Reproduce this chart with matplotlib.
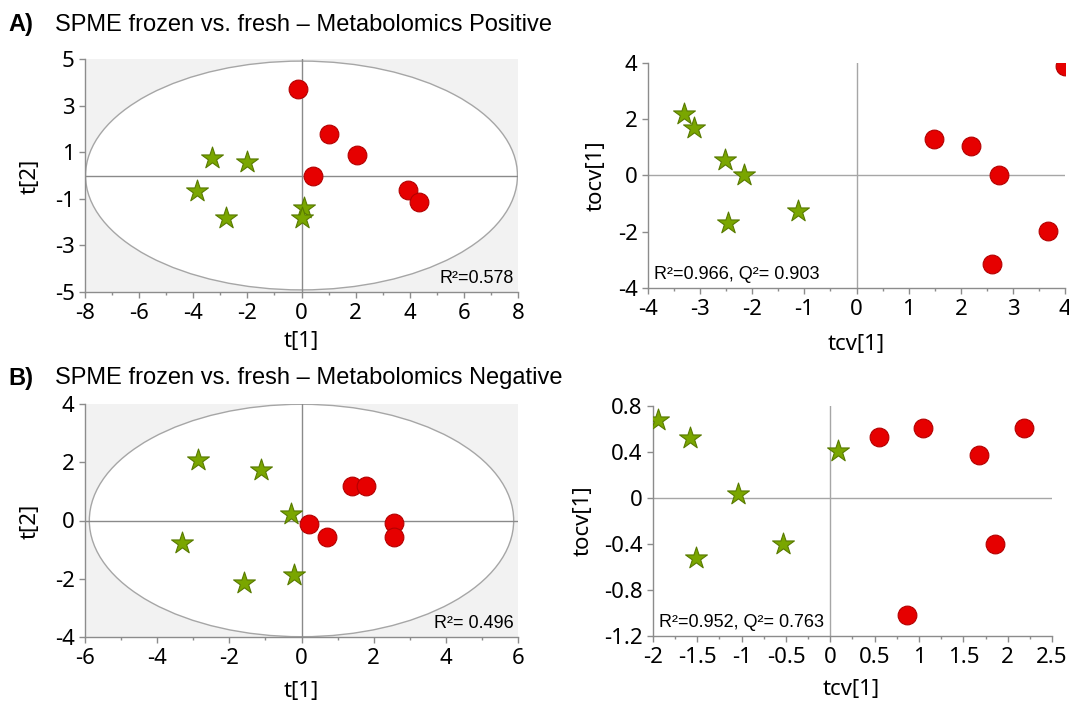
import matplotlib
matplotlib.use("Agg")
import matplotlib.pyplot as plt
from matplotlib.patches import Ellipse
from matplotlib.ticker import MultipleLocator

plt.rcParams["axes.unicode_minus"] = False

W, H = 1069, 705
DPI = 100

# ---------------- data ----------------
# Panel A, scores plot (t[1], t[2])
a_left_red_x = [-0.13, 1.02, 2.04, 0.41, 3.95, 4.36]
a_left_red_y = [3.73, 1.80, 0.87, 0.00, -0.63, -1.13]
a_left_green_x = [-3.29, -2.00, -3.86, -2.79, 0.09, 0.00]
a_left_green_y = [0.73, 0.56, -0.66, -1.84, -1.41, -1.84]
a_left_ellipse = (7.98, 4.91)
a_left_text = "R²=0.578"

# Panel A, cross-validated scores (tcv[1], tocv[1])
a_right_red_x = [1.49, 2.19, 2.74, 3.67, 2.59, 4.00]
a_right_red_y = [1.31, 1.04, 0.00, -1.99, -3.13, 3.88]
a_right_green_x = [-3.31, -3.11, -2.53, -2.15, -2.46, -1.13]
a_right_green_y = [2.18, 1.70, 0.56, 0.00, -1.70, -1.25]
a_right_text = "R²=0.966, Q²= 0.903"

# Panel B, scores plot
b_left_red_x = [0.21, 0.70, 1.41, 1.79, 2.56, 2.56]
b_left_red_y = [-0.13, -0.55, 1.18, 1.18, -0.10, -0.56]
b_left_green_x = [-2.88, -1.13, -0.29, -3.32, -1.60, -0.21]
b_left_green_y = [2.07, 1.73, 0.24, -0.77, -2.14, -1.88]
b_left_ellipse = (5.88, 3.99)
b_left_text = "R²= 0.496"

# Panel B, cross-validated scores
b_right_red_x = [0.55, 1.04, 1.68, 2.18, 1.86, 0.87]
b_right_red_y = [0.53, 0.61, 0.37, 0.61, -0.40, -1.02]
b_right_green_x = [-1.94, -1.58, -1.04, -1.52, -0.53, 0.09]
b_right_green_y = [0.68, 0.52, 0.036, -0.52, -0.40, 0.41]
b_right_text = "R²=0.952, Q²= 0.763"

b_right_xticks = [-2, -1.5, -1, -0.5, 0, 0.5, 1, 1.5, 2, 2.5]
b_right_xticklabels = ["-2", "-1.5", "-1", "-0.5", "0", "0.5", "1", "1.5", "2", "2.5"]
b_right_yticks = [0.8, 0.4, 0, -0.4, -0.8, -1.2]
b_right_yticklabels = ["0.8", "0.4", "0", "-0.4", "-0.8", "-1.2"]

title_a = "SPME frozen vs. fresh – Metabolomics Positive"
title_b = "SPME frozen vs. fresh – Metabolomics Negative"

# ---------------- style ----------------
RED = "#e60000"
RED_EDGE = "#b30000"
GREEN = "#7aa600"
GREEN_EDGE = "#587a00"
AXGRAY = "#8c8c8c"
ZEROGRAY = "#8a8a8a"
TICKFONT = "Noto Sans"
TEXTFONT = "Liberation Sans"
TICKSIZE = 16

fig = plt.figure(figsize=(W / DPI, H / DPI), dpi=DPI)
fig.patch.set_facecolor("white")


def px_axes(x0, y0, x1, y1):
    return fig.add_axes([x0 / W, 1 - y1 / H, (x1 - x0) / W, (y1 - y0) / H])


def style(ax, xlim, ylim, xmaj, xmin, ymaj, shaded):
    ax.set_xlim(*xlim)
    ax.set_ylim(*ylim)
    ax.xaxis.set_major_locator(MultipleLocator(xmaj))
    ax.xaxis.set_minor_locator(MultipleLocator(xmin))
    ax.yaxis.set_major_locator(MultipleLocator(ymaj))
    for s in ["top", "right"]:
        ax.spines[s].set_visible(False)
    for s in ["left", "bottom"]:
        ax.spines[s].set_color(AXGRAY)
        ax.spines[s].set_linewidth(1.0)
    ax.tick_params(which="major", direction="out", length=4, width=1,
                   color=AXGRAY, labelsize=TICKSIZE)
    ax.tick_params(axis="x", which="major", pad=4)
    ax.tick_params(axis="y", which="major", pad=3.5)
    ax.tick_params(which="minor", direction="out", length=2.5, width=1,
                   color=AXGRAY)
    ax.set_facecolor("#f2f2f2" if shaded else "white")


def fonts(ax):
    for lab in ax.get_xticklabels() + ax.get_yticklabels():
        lab.set_fontfamily(TICKFONT)


def points(ax, rx, ry, gx, gy):
    ax.scatter(gx, gy, marker="*", s=16.5 ** 2, c=GREEN, edgecolors=GREEN_EDGE,
               linewidths=0.8, zorder=3)
    ax.scatter(rx, ry, marker="o", s=13.5 ** 2, c=RED, edgecolors=RED_EDGE,
               linewidths=0.8, zorder=4)


def zero_lines(ax, color):
    ax.axhline(0, color=color, lw=1.0, zorder=1)
    ax.axvline(0, color=color, lw=1.0, zorder=1)


RSIZE = 13

# ---------- Panel A left ----------
ax = px_axes(85, 59, 518, 292)
style(ax, (-8, 8), (-5, 5), 2, 1, 2, True)
ax.set_yticks([5, 3, 1, -1, -3, -5])
ax.add_patch(Ellipse((0, 0), 2 * a_left_ellipse[0], 2 * a_left_ellipse[1],
                     facecolor="white", edgecolor="#a6a6a6", lw=1.0, zorder=0.5))
zero_lines(ax, ZEROGRAY)
points(ax, a_left_red_x, a_left_red_y, a_left_green_x, a_left_green_y)
ax.text(0.99, 0.02, a_left_text, transform=ax.transAxes, ha="right", va="bottom",
        fontsize=RSIZE, family=TEXTFONT)
fonts(ax)

# ---------- Panel A right ----------
ax = px_axes(648, 63, 1065, 288)
style(ax, (-4, 4), (-4, 4), 1, 0.5, 2, False)
zero_lines(ax, "#a6a6a6")
points(ax, a_right_red_x, a_right_red_y, a_right_green_x, a_right_green_y)
ax.text(0.015, 0.02, a_right_text, transform=ax.transAxes, ha="left", va="bottom",
        fontsize=RSIZE, family=TEXTFONT)
fonts(ax)

# ---------- Panel B left ----------
ax = px_axes(85, 404, 518, 637)
style(ax, (-6, 6), (-4, 4), 2, 1, 2, True)
ax.add_patch(Ellipse((0, 0), 2 * b_left_ellipse[0], 2 * b_left_ellipse[1],
                     facecolor="white", edgecolor="#a6a6a6", lw=1.0, zorder=0.5))
zero_lines(ax, ZEROGRAY)
points(ax, b_left_red_x, b_left_red_y, b_left_green_x, b_left_green_y)
ax.text(0.99, 0.02, b_left_text, transform=ax.transAxes, ha="right", va="bottom",
        fontsize=RSIZE, family=TEXTFONT)
fonts(ax)

# ---------- Panel B right ----------
ax = px_axes(653, 406, 1052, 636)
style(ax, (-2, 2.5), (-1.2, 0.8), 0.5, 0.25, 0.4, False)
ax.set_yticks(b_right_yticks)
ax.set_yticklabels(b_right_yticklabels)
ax.set_xticks(b_right_xticks)
ax.set_xticklabels(b_right_xticklabels)
zero_lines(ax, "#a6a6a6")
points(ax, b_right_red_x, b_right_red_y, b_right_green_x, b_right_green_y)
ax.text(0.015, 0.02, b_right_text, transform=ax.transAxes, ha="left", va="bottom",
        fontsize=RSIZE, family=TEXTFONT)
fonts(ax)

# ---------- titles & axis labels ----------
def ftext(x, y, s, **kw):
    fig.text(x / W, 1 - y / H, s, **kw)

TSIZE = 17
ftext(8, 25, "A)", fontsize=TSIZE, fontweight="bold", family=TEXTFONT, va="center")
ftext(55, 25, title_a, fontsize=TSIZE, family=TEXTFONT, va="center")
ftext(8, 378, "B)", fontsize=TSIZE, fontweight="bold", family=TEXTFONT, va="center")
ftext(55, 378, title_b, fontsize=TSIZE, family=TEXTFONT, va="center")

lab_kw = dict(fontsize=TICKSIZE, family=TICKFONT, ha="center", va="center")
ftext(301, 342, "t[1]", **lab_kw)
ftext(30, 176, "t[2]", rotation=90, **lab_kw)
ftext(856, 345, "tcv[1]", **lab_kw)
ftext(596, 176, "tocv[1]", rotation=90, **lab_kw)
ftext(301, 692, "t[1]", **lab_kw)
ftext(30, 521, "t[2]", rotation=90, **lab_kw)
ftext(851, 689, "tcv[1]", **lab_kw)
ftext(583, 521, "tocv[1]", rotation=90, **lab_kw)

fig.savefig("out.png", dpi=DPI)
